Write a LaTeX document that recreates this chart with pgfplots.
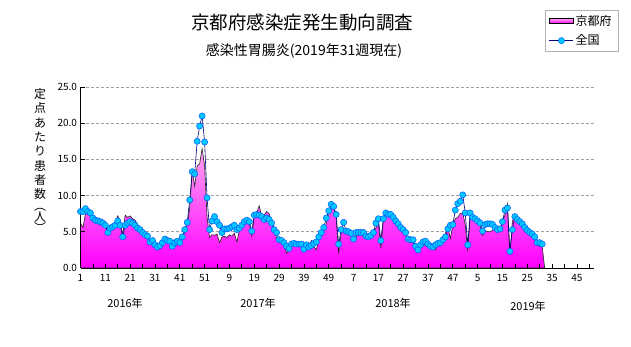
\documentclass[border=0pt]{standalone}
\usepackage{fontspec}
\setmainfont{Noto Sans CJK JP}
\usepackage{pgfplots}
\usepackage{pgfplotstable}
\pgfplotsset{compat=1.18}
\definecolor{natline}{RGB}{0,0,128}
\definecolor{natfill}{RGB}{0,200,255}
\definecolor{natedge}{RGB}{0,90,255}
\definecolor{kyotop}{RGB}{255,165,240}
\definecolor{kyobot}{RGB}{255,0,255}
\definecolor{kyomid}{RGB}{255,110,245}
\pgfplotsset{
  kyolegend/.style={legend image code/.code={\draw[black, top color=kyotop, bottom color=kyobot] (0pt,-2.5pt) rectangle (24pt,2.5pt);}},
  natlegend/.style={legend image code/.code={\draw[mark repeat=2,mark phase=2,##1] plot coordinates {(0pt,0pt) (12pt,0pt) (24pt,0pt)};}},
}
\pgfplotstableread{
w kyoto national
1 6.2 7.8
2 5.6 7.8
3 7.5 8.2
4 7.9 7.8
5 7.3 7.6
6 6.8 6.9
7 6.5 6.6
8 6.3 6.5
9 6.2 6.4
10 6.0 6.2
11 5.6 5.9
12 5.3 4.9
13 5.6 5.5
14 5.9 5.7
15 6.3 5.9
16 7.2 6.5
17 6.5 5.9
18 4.5 4.3
19 7.3 5.9
20 7.0 6.2
21 7.2 6.4
22 6.8 6.2
23 6.6 5.9
24 6.0 5.5
25 5.5 5.3
26 5.0 4.9
27 4.6 4.6
28 4.3 4.4
29 3.9 3.6
30 3.6 3.8
31 3.0 3.2
32 2.7 2.9
33 2.6 3.1
34 3.2 3.5
35 3.6 4.0
36 3.5 3.8
37 3.4 3.7
38 3.3 3.0
39 3.0 3.5
40 3.3 3.7
41 3.6 3.5
42 4.0 4.3
43 5.0 5.3
44 6.0 6.3
45 8.3 9.4
46 13.4 13.3
47 11.3 13.0
48 14.1 17.5
49 14.4 19.6
50 16.5 21.0
51 14.1 17.4
52 7.0 9.7
53 4.2 5.3
54 4.6 6.5
55 4.5 7.1
56 4.7 6.4
57 3.5 5.9
58 4.3 4.9
59 4.4 5.4
60 4.2 5.4
61 4.6 5.5
62 4.4 5.7
63 4.8 5.9
64 3.6 5.3
65 5.2 5.5
66 5.6 5.9
67 6.2 6.4
68 6.3 6.6
69 6.2 6.4
70 4.4 5.1
71 7.1 7.3
72 7.6 7.4
73 8.6 7.3
74 7.1 7.1
75 7.3 6.7
76 7.8 6.9
77 7.5 6.7
78 6.4 6.2
79 5.5 5.3
80 4.1 4.9
81 4.3 3.9
82 3.8 3.8
83 3.5 3.5
84 2.0 3.0
85 2.8 2.7
86 3.0 3.3
87 3.1 3.4
88 3.2 3.3
89 3.0 3.3
90 2.9 3.3
91 3.5 2.6
92 3.3 3.2
93 2.9 2.9
94 3.8 3.1
95 3.0 3.4
96 2.5 3.6
97 3.9 4.3
98 4.5 4.9
99 5.0 5.6
100 6.2 6.9
101 7.3 7.9
102 8.5 8.8
103 8.4 8.5
104 6.9 7.4
105 2.0 3.3
106 4.8 5.3
107 5.5 6.3
108 5.0 5.1
109 4.8 5.0
110 4.6 4.8
111 3.6 4.0
112 4.3 4.9
113 4.5 4.9
114 4.6 4.9
115 4.3 4.9
116 4.1 4.4
117 4.2 4.3
118 4.6 4.5
119 5.0 4.9
120 5.5 6.2
121 6.2 6.8
122 2.7 3.8
123 6.6 6.8
124 7.6 7.6
125 7.6 7.4
126 7.2 7.4
127 6.6 7.0
128 6.0 6.5
129 5.6 6.1
130 5.2 5.6
131 5.0 5.3
132 4.6 4.9
133 4.2 4.0
134 3.8 3.9
135 3.5 3.9
136 2.7 3.0
137 2.3 2.5
138 2.8 3.2
139 3.0 3.6
140 3.3 3.7
141 3.2 3.3
142 3.0 3.0
143 2.9 2.9
144 2.5 3.2
145 3.2 3.4
146 3.5 3.5
147 4.1 3.9
148 4.8 4.3
149 5.6 5.4
150 4.1 5.9
151 5.9 6.0
152 6.8 8.0
153 7.0 8.9
154 7.5 9.2
155 7.6 10.1
156 6.0 7.6
157 2.3 3.2
158 7.3 7.6
159 6.7 7.0
160 6.5 6.8
161 6.2 6.5
162 5.9 6.2
163 4.5 5.1
164 5.2 6.0
165 5.0 6.1
166 5.0 6.1
167 5.2 6.0
168 5.4 5.6
169 5.0 5.3
170 5.3 5.4
171 6.5 6.4
172 7.3 8.0
173 8.9 8.3
174 1.8 2.3
175 6.5 5.3
176 7.2 7.1
177 6.5 6.7
178 6.2 6.4
179 6.0 6.1
180 5.5 5.6
181 5.3 5.2
182 4.8 4.9
183 4.6 4.7
184 4.2 4.3
185 3.2 3.5
186 3.0 3.5
187 3.0 3.3
}\datatable
\begin{document}
\begin{tikzpicture}
\path[use as bounding box] (0pt,0pt) rectangle (631pt,347pt);
\begin{axis}[
  at={(80.5pt,79pt)}, anchor=south west, scale only axis,
  width=513.8pt, height=181pt,
  xmin=1, xmax=208, ymin=0, ymax=25,
  axis on top,
  axis x line*=bottom, axis y line*=left,
  axis line style={black, line width=0.8pt},
  xtick={1,11,...,201},
  minor xtick={6,16,...,206},
  xticklabels={1,11,21,31,41,51,9,19,29,39,49,7,17,27,37,47,5,15,25,35,45},
  ytick={0,5,...,25},
  yticklabel style={/pgf/number format/.cd, fixed, fixed zerofill, precision=1},
  xticklabel style={yshift=-3pt},
  /pgf/number format/assume math mode=true,
  tick label style={font=\fontsize{10}{10}\selectfont, black},
  tick align=inside,
  major tick length=4pt, minor tick length=4pt,
  tick style={black, line width=0.7pt},
  legend style={at={(1.046,1.425)}, anchor=north east, draw=gray!60, fill=white,
    font=\fontsize{12}{13}\selectfont, inner xsep=4pt, inner ysep=3pt, row sep=4pt,
    legend cell align=left},
]
\pgfplotsinvokeforeach{5,10,15,20,25}{
  \draw[gray!75, dash pattern=on 3pt off 2pt, line width=0.6pt] (axis cs:1,#1) -- (axis cs:208,#1);
}
\addplot[draw=black!85, line width=0.6pt, top color=kyotop, bottom color=kyobot, kyolegend]
  table[x=w,y=kyoto]{\datatable} -- (axis cs:188,0) \closedcycle;
\addlegendentry{京都府}
\addplot[natline, line width=0.6pt, mark=*, mark size=3.1pt,
  mark options={fill=natfill, draw=natedge, line width=0.5pt}, natlegend]
  table[x=w,y=national]{\datatable};
\addlegendentry{全国}
\end{axis}
\node at (302pt,325pt) {\fontsize{18.5}{18.5}\selectfont 京都府感染症発生動向調査};
\node at (304pt,296pt) {\fontsize{14}{14}\selectfont 感染性胃腸炎(2019年31週現在)};
\node[align=center, anchor=north, font=\fontsize{12}{14.3}\selectfont] at (40pt,262pt) {定\\点\\あ\\た\\り\\患\\者\\数\\[-3pt]︵\\[-3pt]人\\[-3pt]︶};
\node at (125pt,44pt) {\fontsize{11}{11}\selectfont 2016年};
\node at (258pt,44pt) {\fontsize{11}{11}\selectfont 2017年};
\node at (393pt,44pt) {\fontsize{11}{11}\selectfont 2018年};
\node at (528pt,41pt) {\fontsize{11}{11}\selectfont 2019年};
\end{tikzpicture}
\end{document}
